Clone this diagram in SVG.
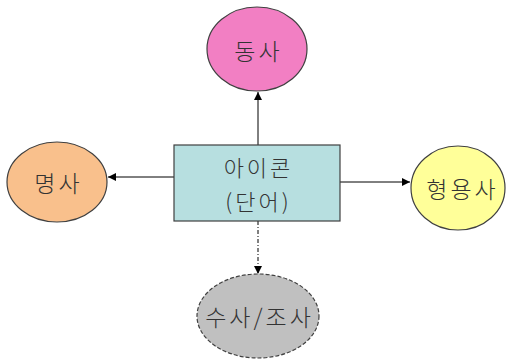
<svg xmlns="http://www.w3.org/2000/svg" width="508" height="360" viewBox="0 0 508 360">
  <defs>
    <marker id="arrow" viewBox="0 0 10 10" refX="10" refY="5" markerWidth="8" markerHeight="8" markerUnits="userSpaceOnUse" orient="auto">
      <path d="M0,0 L10,5 L0,10 Z" fill="#000"/>
    </marker>
  </defs>
  <style>
    .node { stroke: #404040; stroke-width: 1.2; }
    .label { font-family: "Noto Sans CJK KR", "Noto Sans", sans-serif; font-size: 23px; fill: #333; text-anchor: middle; dominant-baseline: central; font-weight: 300; letter-spacing: 3px; }
    .boxlabel { font-size: 22px; }
    .edge { stroke: #000; stroke-width: 1; fill: none; marker-end: url(#arrow); }
    .dashed { stroke-dasharray: 4 2 1 2; }
  </style>
  <rect width="508" height="360" fill="#fff"/>

  <g id="connectors">
    <line class="edge" x1="258" y1="145" x2="258" y2="92"/>
    <line class="edge" x1="174" y1="177" x2="108" y2="177"/>
    <line class="edge" x1="340" y1="182" x2="410" y2="182"/>
    <line class="edge dashed" x1="258" y1="221" x2="258" y2="274"/>
  </g>

  <g id="node-verb">
    <ellipse class="node" cx="257" cy="49" rx="50" ry="42" fill="#F27FC3"/>
    <text class="label" x="258.5" y="50">동사</text>
  </g>

  <g id="node-noun">
    <ellipse class="node" cx="57" cy="182" rx="50" ry="40" fill="#F9C08C"/>
    <text class="label" x="58.5" y="182">명사</text>
  </g>

  <g id="node-icon">
    <rect class="node" x="174" y="145" width="166" height="76" fill="#B7DFE0"/>
    <text class="label boxlabel" x="258.5" y="166">아이콘</text>
    <text class="label boxlabel" x="258.5" y="200">(단어)</text>
  </g>

  <g id="node-adjective">
    <ellipse class="node" cx="458" cy="188" rx="47" ry="42" fill="#FFFF99"/>
    <text class="label" x="462.5" y="188">형용사</text>
  </g>

  <g id="node-numeral">
    <ellipse class="node" cx="258" cy="316" rx="61" ry="42" fill="#C0C0C0" stroke-dasharray="4 2"/>
    <text class="label" x="259.5" y="316">수사/조사</text>
  </g>
</svg>
